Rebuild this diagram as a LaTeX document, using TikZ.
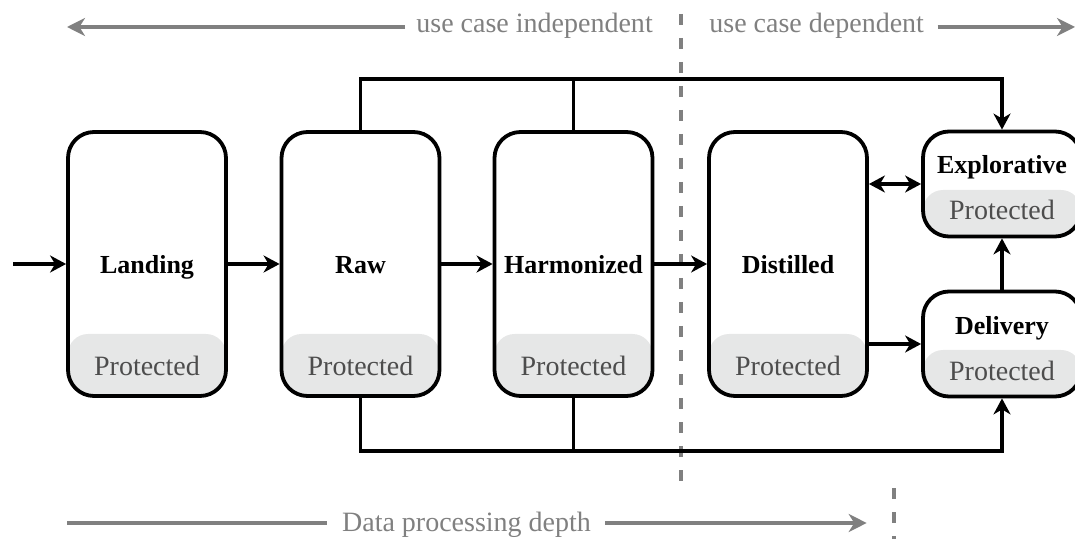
\documentclass[tikz,border=0pt]{standalone}
\usepackage{fontspec}
\setmainfont{Liberation Serif}
\usetikzlibrary{arrows.meta}
\definecolor{bandgray}{HTML}{E6E7E7}
\definecolor{protgray}{HTML}{4D4D4D}
\definecolor{guidegray}{HTML}{808080}
\begin{document}
\begin{tikzpicture}[x=0.5pt,y=-0.5pt,
  layer/.style={draw=black, line width=1.9pt, rounded corners=13pt, minimum width=79pt, inner sep=0pt},
  bigbox/.style={layer, minimum height=132pt,
    path picture={\fill[bandgray, rounded corners=10pt] ([yshift=-20pt]path picture bounding box.south west) rectangle ([yshift=31pt]path picture bounding box.south east);}},
  smallbox/.style={layer, minimum height=52.5pt,
    path picture={\fill[bandgray, rounded corners=10pt] ([yshift=-20pt]path picture bounding box.south west) rectangle ([yshift=23.25pt]path picture bounding box.south east);}},
  title/.style={font=\fontsize{13pt}{15pt}\selectfont\bfseries, inner sep=0pt, anchor=base},
  prot/.style={font=\fontsize{14pt}{16pt}\selectfont, text=protgray, inner sep=0pt, anchor=base},
  gtext/.style={font=\fontsize{14pt}{16pt}\selectfont, text=guidegray, inner sep=0pt, anchor=base west},
  conn/.style={line width=1.7pt, -{Stealth[length=8pt,width=8.5pt,inset=2.5pt]}},
  bothconn/.style={line width=1.7pt, {Stealth[length=8pt,width=8.5pt,inset=2.5pt]}-{Stealth[length=8pt,width=8.5pt,inset=2.5pt]}},
  plain/.style={line width=1.7pt},
  garrow/.style={draw=guidegray, line width=1.8pt, -{Stealth[length=9pt,width=9pt,inset=2.8pt]}},
  gline/.style={draw=guidegray, line width=1.8pt},
  divider/.style={draw=guidegray, line width=1.8pt, dash pattern=on 5.5pt off 6.5pt},
]
\useasboundingbox (0,0) rectangle (1075,539);

% layers
\node[bigbox] (land) at (147,264) {};
\node[bigbox] (raw) at (360.5,264) {};
\node[bigbox] (harm) at (573.5,264) {};
\node[bigbox] (dist) at (788,264) {};
\node[smallbox] (expl) at (1002,184) {};
\node[smallbox] (deliv) at (1002,344) {};

% texts
\node[title] (landT) at (147,274) {Landing};
\node[title] (rawT) at (360.5,274) {Raw};
\node[title] (harmT) at (573.5,274) {Harmonized};
\node[title] (distT) at (788,274) {Distilled};
\node[title] (explT) at (1002,174) {Explorative};
\node[title] (delivT) at (1002,335) {Delivery};
\node[prot] (landP) at (147,375) {Protected};
\node[prot] (rawP) at (360.5,375) {Protected};
\node[prot] (harmP) at (573.5,375) {Protected};
\node[prot] (distP) at (788,375) {Protected};
\node[prot] (explP) at (1002,219.5) {Protected};
\node[prot] (delivP) at (1002,380) {Protected};

% dividers
\coordinate (dvA) at (680.7,14);
\coordinate (dvB) at (680.7,487);
\draw[divider] (dvA) -- (dvB);
\coordinate (dsA) at (894,488);
\coordinate (dsB) at (894,545);
\draw[divider] (dsA) -- (dsB);

% main flow
\coordinate (src) at (13,264);
\draw[conn] (src) -- (land.west);
\draw[conn] (land.east) -- (raw.west);
\draw[conn] (raw.east) -- (harm.west);
\draw[conn] (harm.east) -- (dist.west);
\draw[bothconn] (dist.east |- expl.west) -- (expl.west);
\draw[conn] (dist.east |- deliv.west) -- (deliv.west);
\draw[conn] (deliv.north) -- (expl.south);

% bypass lines
\coordinate (topy) at (0,79);
\coordinate (boty) at (0,451);
\draw[conn] (raw.north) -- (raw.north |- topy) -- (expl.north |- topy) -- (expl.north);
\draw[plain] (harm.north) -- (harm.north |- topy);
\draw[conn] (raw.south) -- (raw.south |- boty) -- (deliv.south |- boty) -- (deliv.south);
\draw[plain] (harm.south) -- (harm.south |- boty);

% header / footer guides
\node[gtext] (uci) at (416,33) {use case independent};
\node[gtext] (ucd) at (709,33) {use case dependent};
\coordinate (uciA) at (405,27);
\coordinate (uciB) at (67,27);
\draw[garrow] (uciA) -- (uciB);
\coordinate (ucdA) at (937.5,27);
\coordinate (ucdB) at (1075,27);
\draw[garrow] (ucdA) -- (ucdB);

\node[gtext] (dpd) at (341.7,531.7) {Data processing depth};
\coordinate (dpA) at (67,523);
\coordinate (dpB) at (327,523);
\coordinate (dpC) at (605,523);
\coordinate (dpD) at (866.7,523);
\draw[gline] (dpA) -- (dpB);
\draw[garrow] (dpC) -- (dpD);
\end{tikzpicture}
\end{document}
